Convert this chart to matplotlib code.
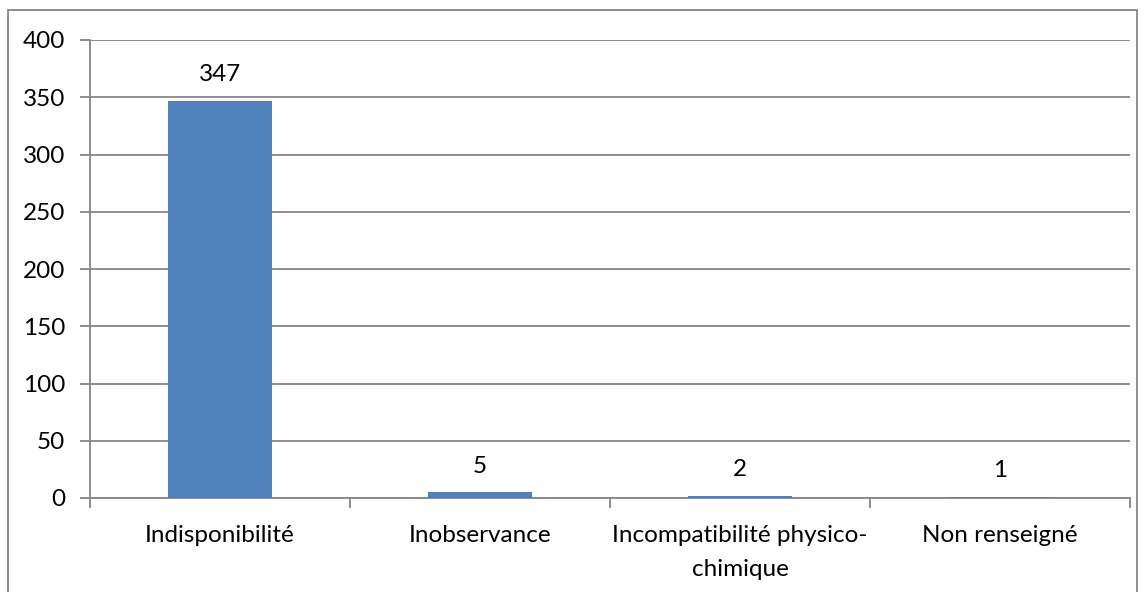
import matplotlib
matplotlib.use("Agg")
import matplotlib.pyplot as plt
from matplotlib.patches import Rectangle
from matplotlib.transforms import offset_copy

categories = ["Indisponibilité", "Inobservance", "Incompatibilité physico-\nchimique", "Non renseigné"]
values = [347, 5, 2, 1]
yticks = [0, 50, 100, 150, 200, 250, 300, 350, 400]

W, H = 1145, 592
FS = 17.5
fig = plt.figure(figsize=(W / 100, H / 100), dpi=100)
plt.rcParams['font.family'] = ['Lato', 'DejaVu Sans']

# outer chart border
fig.patches.append(Rectangle((8 / W, -0.01), (1137 - 8) / W, 1 - 10 / H + 0.01,
                             transform=fig.transFigure, fill=False,
                             edgecolor='#868686', linewidth=1.3))

left, right, top, bottom = 90, 1130, 40, 498
ax = fig.add_axes([left / W, 1 - bottom / H, (right - left) / W, (bottom - top) / H])

x = list(range(len(categories)))
ax.bar(x, values, width=0.4, color='#4F81BD', zorder=3)
ax.set_xlim(-0.5, len(categories) - 0.5)
ax.set_ylim(0, 400)
ax.set_yticks(yticks)
ax.set_yticklabels([str(v) for v in yticks], fontsize=FS)
ax.yaxis.grid(True, color='#868686', linewidth=1.3, zorder=0)
ax.set_axisbelow(True)

ax.set_xticks([i - 0.5 for i in range(len(categories) + 1)])
ax.set_xticklabels([])
ax.tick_params(axis='x', which='major', length=7, color='#868686', width=1.3)
ax.tick_params(axis='y', length=7, color='#868686', width=1.3, pad=11)

# category labels (first line centred 35 px below the axis, second line 34 px lower)
for xi, c in zip(x, categories):
    lines = c.split('\n')
    for k, line in enumerate(lines):
        tr = offset_copy(ax.get_xaxis_transform(), fig=fig, x=0, y=-35 - 34 * k, units='dots')
        ax.text(xi, 0, line, transform=tr, ha='center', va='center_baseline', fontsize=FS)

for s in ['top', 'right']:
    ax.spines[s].set_visible(False)
for s in ['left', 'bottom']:
    ax.spines[s].set_color('#868686')
    ax.spines[s].set_linewidth(1.3)

for xi, v in zip(x, values):
    ax.annotate(str(v), (xi, v), xytext=(0, 26 * 0.72), textcoords='offset points',
                ha='center', va='center', fontsize=FS)

fig.savefig("out.png", dpi=100)
